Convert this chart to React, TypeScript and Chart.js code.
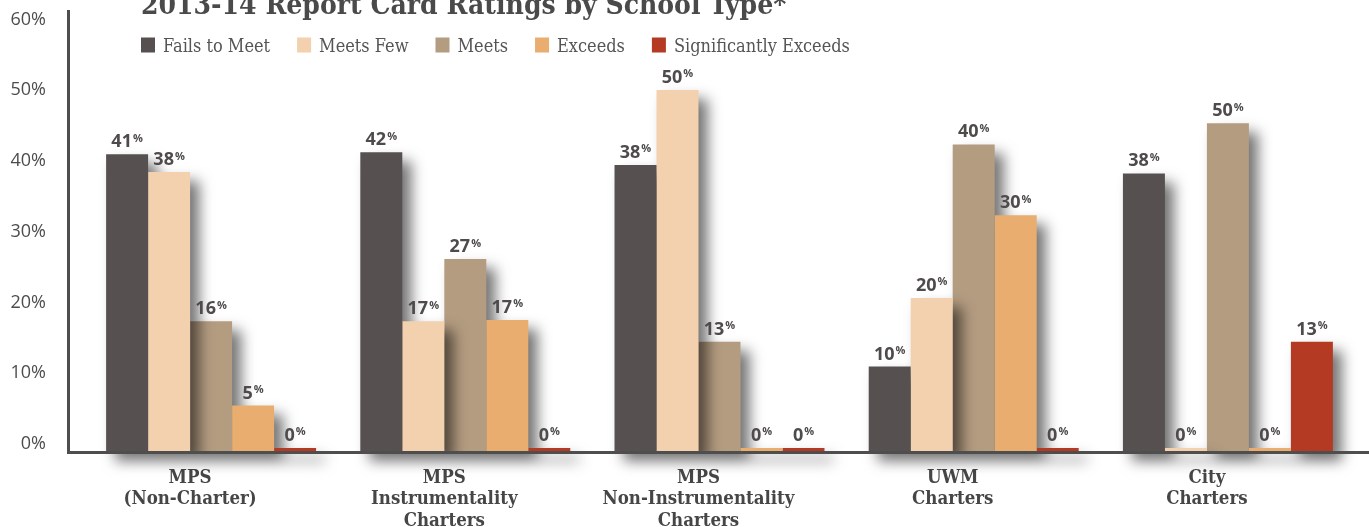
import React, { useEffect, useRef } from "react";
import { Chart, registerables } from "chart.js";

Chart.register(...registerables);

const TITLE = "2013-14 Report Card Ratings by School Type*";
const CATEGORIES = [
  ["MPS", "(Non-Charter)"],
  ["MPS", "Instrumentality", "Charters"],
  ["MPS", "Non-Instrumentality", "Charters"],
  ["UWM", "Charters"],
  ["City", "Charters"],
];
const SERIES_NAMES = ["Fails to Meet", "Meets Few", "Meets", "Exceeds", "Significantly Exceeds"];
const SERIES_COLORS = ["#565050", "#f3d0ae", "#b49c81", "#e8ad6f", "#b43a24"];

// bar heights as drawn in the picture (percent)
const FAILS_TO_MEET = [41.5, 41.8, 40.0, 11.5, 38.8];
const MEETS_FEW = [39.0, 17.9, 50.6, 21.2, 0];
const MEETS = [17.9, 26.7, 15.0, 42.9, 45.9];
const EXCEEDS = [6.0, 18.1, 0, 32.9, 0];
const SIG_EXCEEDS = [0, 0, 0, 0, 15.0];

// printed value labels (percent)
const FAILS_TO_MEET_LABELS = [41, 42, 38, 10, 38];
const MEETS_FEW_LABELS = [38, 17, 50, 20, 0];
const MEETS_LABELS = [16, 27, 13, 40, 50];
const EXCEEDS_LABELS = [5, 17, 0, 30, 0];
const SIG_EXCEEDS_LABELS = [0, 0, 0, 0, 13];

const Y_TICKS = [0, 10, 20, 30, 40, 50, 60];
const Y_MIN = -0.57;
const Y_MAX = 61.9;

const SERIES_VALUES = [FAILS_TO_MEET, MEETS_FEW, MEETS, EXCEEDS, SIG_EXCEEDS];
const SERIES_LABELS = [FAILS_TO_MEET_LABELS, MEETS_FEW_LABELS, MEETS_LABELS, EXCEEDS_LABELS, SIG_EXCEEDS_LABELS];

const SLAB = "'DejaVu Serif Condensed', 'DejaVu Serif', serif";
const SANS = "'Open Sans', 'Noto Sans', sans-serif";

function barRects(chart: any, dsIndex: number) {
  const meta = chart.getDatasetMeta(dsIndex);
  return meta.data.map((el: any) => {
    const p = el.getProps(["x", "y", "base", "width"], true);
    return { l: p.x - p.width / 2, t: Math.min(p.y, p.base), w: p.width, h: Math.abs(p.base - p.y) };
  });
}

function drawShadow(ctx: CanvasRenderingContext2D, rects: any[]) {
  const OFF = 10000;
  ctx.beginPath();
  rects.forEach((r) => ctx.rect(r.l - OFF, r.t, r.w, r.h));
  ctx.shadowColor = "rgba(0,0,0,0.55)";
  ctx.shadowBlur = 14;
  ctx.shadowOffsetX = OFF + 9;
  ctx.shadowOffsetY = 9;
  ctx.fillStyle = "#000";
  ctx.fill();
}

const decorPlugin = {
  id: "decor",
  beforeDatasetsDraw(chart: any) {
    const ctx = chart.ctx;
    ctx.save();
    let all: any[] = [];
    chart.data.datasets.forEach((_: any, i: number) => {
      all = all.concat(barRects(chart, i));
    });
    drawShadow(ctx, all);
    ctx.restore();
  },
  afterDatasetDraw(chart: any, args: any) {
    if (args.index !== 2) return;
    const ctx = chart.ctx;
    ctx.save();
    ctx.beginPath();
    barRects(chart, 2).forEach((r: any) => ctx.rect(r.l, r.t, r.w, r.h));
    ctx.clip();
    drawShadow(ctx, barRects(chart, 1));
    ctx.restore();
  },
  afterDatasetsDraw(chart: any) {
    const ctx = chart.ctx;
    const area = chart.chartArea;
    ctx.save();
    // axis lines
    ctx.strokeStyle = "#4e4e4e";
    ctx.lineWidth = 3;
    ctx.beginPath();
    ctx.moveTo(area.left - 15.5, area.top);
    ctx.lineTo(area.left - 15.5, area.bottom + 2);
    ctx.moveTo(area.left - 17, area.bottom + 0.5);
    ctx.lineTo(chart.width, area.bottom + 0.5);
    ctx.stroke();

    // value labels
    const numFont = `bold 18px ${SANS}`;
    const pctFont = `bold 11px ${SANS}`;
    ctx.fillStyle = "#4f4b4b";
    ctx.textBaseline = "alphabetic";
    ctx.textAlign = "left";
    SERIES_LABELS.forEach((labels, i) => {
      const meta = chart.getDatasetMeta(i);
      meta.data.forEach((el: any, j: number) => {
        const p = el.getProps(["x", "y"], true);
        const txt = String(labels[j]);
        ctx.font = numFont;
        const w1 = ctx.measureText(txt).width;
        ctx.font = pctFont;
        const w2 = ctx.measureText("%").width;
        const total = w1 + 1 + w2;
        const x0 = p.x - total / 2;
        const yb = p.y - 7;
        ctx.font = numFont;
        ctx.fillText(txt, x0, yb);
        ctx.font = pctFont;
        ctx.fillText("%", x0 + w1 + 1, yb - 5.5);
      });
    });
    ctx.restore();
  },
  afterDraw(chart: any) {
    const ctx = chart.ctx;
    ctx.save();
    // title
    ctx.fillStyle = "#4a4a4a";
    ctx.textAlign = "left";
    ctx.textBaseline = "alphabetic";
    ctx.font = `bold 28px ${SLAB}`;
    ctx.fillText(TITLE, 141, 14);
    // legend
    ctx.font = `18px ${SLAB}`;
    let x = 141;
    SERIES_NAMES.forEach((name, i) => {
      ctx.fillStyle = SERIES_COLORS[i];
      ctx.fillRect(x, 37.5, 14, 15);
      ctx.fillStyle = "#555555";
      ctx.fillText(name, x + 22, 52);
      x += 22 + ctx.measureText(name).width + 27;
    });
    ctx.restore();
  },
};

export default function App() {
  const ref = useRef<HTMLCanvasElement | null>(null);
  useEffect(() => {
    if (!ref.current) return;
    const chart = new Chart(ref.current, {
      type: "bar",
      data: {
        labels: CATEGORIES,
        datasets: SERIES_NAMES.map((name, i) => ({
          label: name,
          data: SERIES_VALUES[i],
          backgroundColor: SERIES_COLORS[i],
          borderWidth: 0,
          base: Y_MIN,
          categoryPercentage: 0.826,
          barPercentage: 1,
        })),
      },
      options: {
        responsive: false,
        animation: false,
        layout: { padding: { left: 0, right: 14, top: 10, bottom: 0 } },
        plugins: {
          legend: { display: false },
          tooltip: { enabled: false },
          title: { display: false },
        },
        scales: {
          x: {
            type: "category",
            offset: true,
            grid: { display: false, drawTicks: false },
            border: { display: false },
            ticks: {
              color: "#464646",
              font: { family: SLAB, size: 18.5, weight: "bold", lineHeight: 1.14 },
              padding: 16,
              labelOffset: -21,
              maxRotation: 0,
              minRotation: 0,
              autoSkip: false,
            },
            afterFit: (s: any) => {
              s.height = 75;
              s.paddingLeft = 0;
              s.paddingRight = 0;
            },
          },
          y: {
            type: "linear",
            min: Y_MIN,
            max: Y_MAX,
            grid: { display: false, drawTicks: false },
            border: { display: false },
            ticks: {
              color: "#4d4d4d",
              font: { family: SANS, size: 18 },
              padding: 38,
              labelOffset: -4,
              callback: (v: any) => v + "%",
            },
            afterBuildTicks: (s: any) => {
              s.ticks = Y_TICKS.map((v) => ({ value: v }));
            },
            afterFit: (s: any) => {
              s.width = 84;
              s.paddingTop = 0;
              s.paddingBottom = 0;
            },
          },
        },
      },
      plugins: [decorPlugin],
    } as any);
    return () => chart.destroy();
  }, []);
  return (
    <div style={{ position: "fixed", left: 0, top: 0, width: 1369, height: 527, background: "#fff" }}>
      <canvas ref={ref} width={1369} height={527} style={{ display: "block" }} />
    </div>
  );
}
